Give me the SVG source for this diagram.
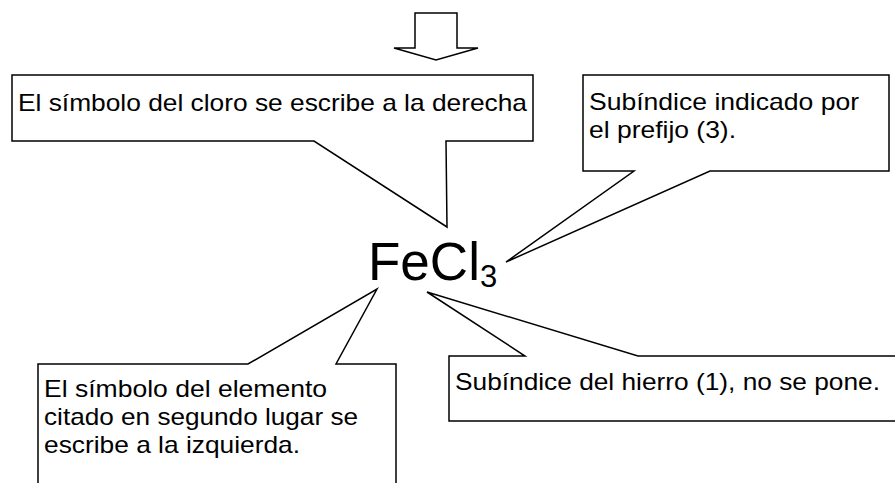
<svg xmlns="http://www.w3.org/2000/svg" width="895" height="483" viewBox="0 0 895 483">
<style>
.c{fill:#fff;stroke:#000;stroke-width:1.5;stroke-linejoin:miter}
.t{font-family:"Liberation Sans",Arial,sans-serif;font-size:24px;fill:#000}
</style>
<rect width="895" height="483" fill="#fff"/>
<g id="arrow">
<path class="c" d="M415,13 H457 V48 H478 L436,60 L394,48 H415 Z"/>
</g>
<g id="connectors">
</g>
<g id="callout-cloro">
<path class="c" d="M12,75 H533 V141 H446 L447,227 L314,141 H12 Z"/>
<text class="t" x="18" y="111" textLength="509" lengthAdjust="spacingAndGlyphs">El símbolo del cloro se escribe a la derecha</text>
</g>
<g id="callout-prefijo">
<path class="c" d="M583,75 H889 V171 H710 L506,262 L634,171 H583 Z"/>
<text class="t" x="589" y="110" textLength="270" lengthAdjust="spacingAndGlyphs">Subíndice indicado por</text>
<text class="t" x="589" y="138" textLength="147" lengthAdjust="spacingAndGlyphs">el prefijo (3).</text>
</g>
<g id="callout-elemento">
<path class="c" d="M38,364 H248 L377,289 L336,364 H396 V495 H38 Z"/>
<text class="t" x="44" y="397" textLength="283" lengthAdjust="spacingAndGlyphs">El símbolo del elemento</text>
<text class="t" x="44" y="425" textLength="314" lengthAdjust="spacingAndGlyphs">citado en segundo lugar se</text>
<text class="t" x="44" y="453" textLength="256" lengthAdjust="spacingAndGlyphs">escribe a la izquierda.</text>
</g>
<g id="callout-hierro">
<path class="c" d="M449,356 H525 L427,292 L638,356 H900 V421 H449 Z"/>
<text class="t" x="455" y="390" textLength="425" lengthAdjust="spacingAndGlyphs">Subíndice del hierro (1), no se pone.</text>
</g>
<g id="formula">
<text class="t" x="368" y="280" style="font-size:53px">FeCl<tspan style="font-size:31px" dy="7">3</tspan></text>
</g>
</svg>
